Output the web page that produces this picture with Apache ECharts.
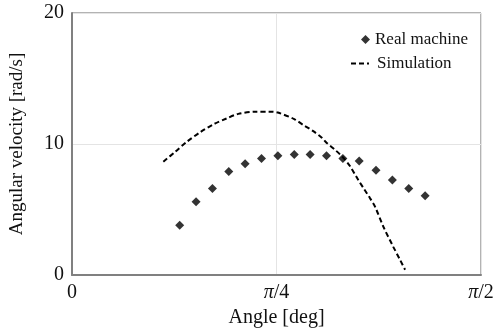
<!DOCTYPE html>
<html>
<head>
<meta charset="utf-8">
<script src="https://cdn.jsdelivr.net/npm/echarts@6/dist/echarts.min.js"></script>
<style>
html, body { margin: 0; padding: 0; background: #fff; }
#chart { width: 493px; height: 329px; }
</style>
</head>
<body>
<div id="chart"></div>
<script>
// angle in degrees (axis shown as fractions of pi)
var real_angle = [23.7, 27.3, 30.9, 34.5, 38.1, 41.7, 45.3, 48.9, 52.4, 56.0, 59.6, 63.2, 66.9, 70.5, 74.1, 77.7]
var real_vel = [3.8, 5.6, 6.6, 7.9, 8.5, 8.9, 9.1, 9.2, 9.2, 9.1, 8.9, 8.7, 8.0, 7.25, 6.6, 6.05]

var sim_angle = [20.1, 22.7, 25.2, 28.2, 31.1, 34.0, 36.6, 40.3, 43.6, 45.3, 48.9, 50.9, 53.0, 54.9, 56.0, 57.9, 59.7, 61.2, 63.0, 64.3, 65.6, 66.7, 68.5, 70.7, 72.2, 73.3]
var sim_vel = [8.65, 9.4, 10.15, 10.9, 11.5, 11.95, 12.3, 12.47, 12.47, 12.4, 11.9, 11.45, 11.0, 10.5, 10.1, 9.55, 8.95, 8.3, 7.25, 6.55, 5.85, 5.2, 3.7, 2.15, 1.15, 0.4]

var x_ticks = {0: '0', 45: '{i|π}/4', 90: '{i|π}/2'}

function zip(a, b) {
    var out = []
    for (var i = 0; i < a.length; i++) {
        out.push([a[i], b[i]])
    }
    return out
}

var font = 'Liberation Serif'
var txt = {
    fontFamily: font,
    fontSize: 20,
    color: '#111'
}

var option = {
    animation: false,
    backgroundColor: '#fff',
    grid: {
        left: 72,
        right: 12,
        top: 13,
        bottom: 54,
        outerBoundsMode: 'none',
        show: true,
        borderColor: '#666',
        borderWidth: 1
    },
    legend: [
        {
            data: [{name: 'Real machine', icon: 'diamond'}],
            left: 356,
            top: 26,
            itemWidth: 9,
            itemHeight: 9,
            textStyle: Object.assign({}, txt, {fontSize: 17, padding: [0, 0, 0, 0]})
        },
        {
            data: [{name: 'Simulation', itemStyle: {opacity: 0}}],
            left: 345,
            top: 50,
            itemWidth: 18,
            itemHeight: 10,
            textStyle: Object.assign({}, txt, {fontSize: 17, padding: [0, 0, 0, 3]})
        }
    ],
    xAxis: {
        type: 'value',
        min: 0,
        max: 90,
        interval: 45,
        name: 'Angle [deg]',
        nameLocation: 'middle',
        nameGap: 27,
        nameTextStyle: txt,
        axisLine: {lineStyle: {color: '#808080', width: 2}},
        axisTick: {show: false},
        axisLabel: Object.assign({}, txt, {
            margin: 8,
            formatter: function (v) { return x_ticks[v] },
            rich: {i: {fontFamily: font, fontSize: 20, fontStyle: 'italic', color: '#111'}}
        }),
        splitLine: {lineStyle: {color: '#e4e4e4', width: 1}}
    },
    yAxis: {
        type: 'value',
        min: 0,
        max: 20,
        interval: 10,
        name: 'Angular velocity [rad/s]',
        nameLocation: 'middle',
        nameGap: 45,
        nameTextStyle: Object.assign({}, txt, {fontSize: 19}),
        axisLine: {show: true, lineStyle: {color: '#808080', width: 2}},
        axisTick: {show: false},
        axisLabel: Object.assign({}, txt, {margin: 8}),
        splitLine: {lineStyle: {color: '#e4e4e4', width: 1}}
    },
    series: [
        {
            name: 'Real machine',
            type: 'scatter',
            symbol: 'diamond',
            symbolSize: 9,
            itemStyle: {color: '#000'},
            data: zip(real_angle, real_vel)
        },
        {
            name: 'Simulation',
            type: 'line',
            smooth: 0.3,
            showSymbol: false,
            symbol: 'none',
            lineStyle: {color: '#000', width: 2, type: [5, 3]},
            itemStyle: {color: '#000'},
            data: zip(sim_angle, sim_vel)
        }
    ]
}

var myChart = echarts.init(document.getElementById('chart'))
myChart.setOption(option)
</script>
</body>
</html>
